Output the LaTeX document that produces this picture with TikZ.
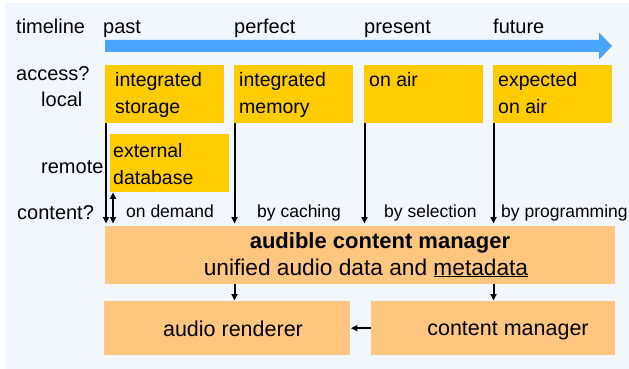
\documentclass[tikz,border=0pt]{standalone}
\usepackage{fontspec}
\setmainfont{Liberation Sans}
\usetikzlibrary{arrows.meta}
\definecolor{panel}{HTML}{F2F7FF}
\definecolor{tlblue}{HTML}{48A4FF}
\definecolor{gold}{HTML}{FFCC00}
\definecolor{peach}{HTML}{FFC680}
\newcommand{\twolines}[2]{\begin{tabular}[t]{@{}l@{}}#1\\#2\end{tabular}}
\begin{document}
\begin{tikzpicture}[x=1pt,y=-1pt,
  ybox/.style={fill=gold, anchor=north west, minimum width=119pt, minimum height=58pt, inner sep=0pt},
  obox/.style={fill=peach, anchor=north west, inner sep=0pt},
  txt/.style={anchor=base west, inner sep=0pt, font=\fontsize{20}{27}\selectfont},
  boxtxt/.style={anchor=base west, inner sep=0pt, font=\fontsize{19.5}{27}\selectfont},
  small/.style={anchor=base west, inner sep=0pt, font=\fontsize{17.5}{21}\selectfont},
  big/.style={anchor=base, inner sep=0pt, font=\fontsize{21.5}{26}\selectfont},
  arr/.style={line width=2pt, -{Triangle[length=6.5pt,width=6pt]}},
  darr/.style={line width=2pt, {Triangle[length=6.5pt,width=6pt]}-{Triangle[length=6.5pt,width=6pt]}}]
\useasboundingbox (0,0) rectangle (629,369);
% panel
\fill[panel] (5,3) rectangle (629,369);

% timeline row
\node[txt] (tl) at (16,34) {timeline};
\node[txt] (past) at (103,34) {past};
\node[txt] (perf) at (234,34) {perfect};
\node[txt] (pres) at (364,34) {present};
\node[txt] (fut) at (493,34) {future};
\fill[tlblue] (105,40) -- (599,40) -- (599,32.5) -- (612,46) -- (599,59.5) -- (599,52) -- (105,52) -- cycle;

% row labels
\node[txt] (acc) at (16,81) {access?};
\node[txt] (loc) at (41,106) {local};
\node[txt] (rem) at (41,173) {remote};
\node[txt] (cont) at (17,219) {content?};

% access boxes
\node[ybox] (stor) at (105,65) {};
\node[ybox] (mem) at (234,65) {};
\node[ybox] (air) at (364,65) {};
\node[ybox] (expd) at (493,65) {};
\node[ybox] (ext) at (110,134) {};
\node[boxtxt] (storT) at (115,86) {\twolines{integrated}{storage}};
\node[boxtxt] (memT) at (239,86) {\twolines{integrated}{memory}};
\node[boxtxt] (airT) at (369,86) {on air};
\node[boxtxt] (expT) at (498,86) {\twolines{expected}{on air}};
\node[boxtxt] (extT) at (113,157) {\twolines{external}{database}};

% content labels
\node[small] (dem) at (126,217) {on demand};
\node[small] (cach) at (257,217) {by caching};
\node[small] (sel) at (384,217) {by selection};
\node[small] (prog) at (501,217) {by programming};

% manager boxes
\node[obox, minimum width=510pt, minimum height=58pt] (acm) at (105,226) {};
\node[anchor=base, inner sep=0pt, font=\fontsize{22}{26}\selectfont\bfseries] (acmT) at (380,248) {audible content manager};
\node[anchor=base, inner sep=0pt, font=\fontsize{22.7}{26}\selectfont] (acmS) at (366,275) {unified audio data and \underline{metadata}};
\node[obox, minimum width=246pt, minimum height=54pt] (rend) at (104,301) {};
\node[obox, minimum width=244pt, minimum height=54pt] (cm) at (371,301) {};
\node[big] (rendT) at (233,336) {audio renderer};
\node[big] (cmT) at (508,335) {content manager};

% connectors
\draw[arr, shorten >=2.5pt] ([xshift=1pt]stor.south west) -- ([xshift=1pt]stor.south west |- acm.north);
\draw[darr, shorten >=2.5pt] ([xshift=3pt]ext.south west) -- ([xshift=3pt]ext.south west |- acm.north);
\draw[arr, shorten >=2.5pt] ([xshift=0.5pt]mem.south west) -- ([xshift=0.5pt]mem.south west |- acm.north);
\draw[arr, shorten >=2.5pt] ([xshift=0.5pt]air.south west) -- ([xshift=0.5pt]air.south west |- acm.north);
\draw[arr, shorten >=2.5pt] ([xshift=0.5pt]expd.south west) -- ([xshift=0.5pt]expd.south west |- acm.north);
\draw[arr, shorten >=0.5pt] ([xshift=0.5pt]mem.south west |- acm.south) -- ([xshift=0.5pt]mem.south west |- rend.north);
\draw[arr, shorten >=0.5pt] ([xshift=0.5pt]expd.south west |- acm.south) -- ([xshift=0.5pt]expd.south west |- cm.north);
\draw[arr, shorten >=0.5pt] (cm.west) -- (rend.east);
\end{tikzpicture}
\end{document}
